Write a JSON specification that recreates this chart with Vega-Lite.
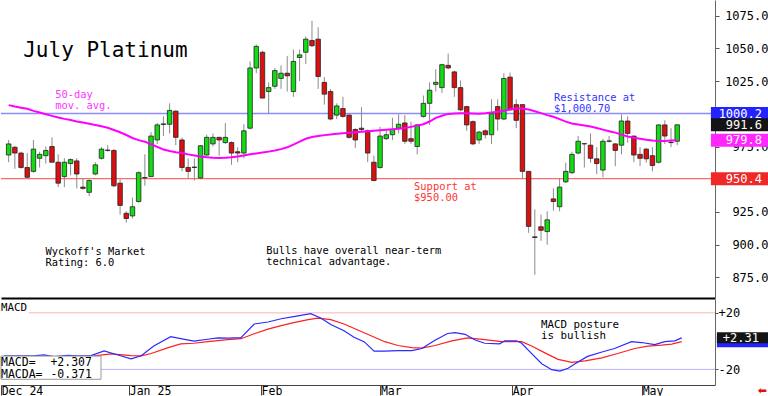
{
"$schema": "https://vega.github.io/schema/vega-lite/v6.json",
"padding": 0,
"background": "white",
"spacing": 1,
"bounds": "flush",
"config": {"view": {"stroke": null}, "axis": {"labelFont": "DejaVu Sans Mono", "labelFontSize": 12, "labelColor": "#000", "grid": false, "title": null, "labelOverlap": false, "labelBound": false}, "text": {"font": "DejaVu Sans Mono"}},
"datasets": {
"candles": [
{"i":0,"o":968.5,"h":980,"l":963,"c":977,"ma":1006.6},
{"i":1,"o":974.4,"h":975.5,"l":958,"c":970,"ma":1005.5},
{"i":2,"o":970,"h":971,"l":958,"c":959,"ma":1004.6},
{"i":3,"o":959,"h":970,"l":951,"c":951.5,"ma":1003.8},
{"i":4,"o":956,"h":980,"l":955,"c":973,"ma":1002.2},
{"i":5,"o":966,"h":971,"l":959,"c":969,"ma":1001},
{"i":6,"o":968,"h":975,"l":962,"c":972,"ma":999.6},
{"i":7,"o":975,"h":982,"l":963,"c":963,"ma":998.4},
{"i":8,"o":963,"h":969,"l":944,"c":947,"ma":997.2},
{"i":9,"o":952,"h":966,"l":944,"c":963,"ma":996.1},
{"i":10,"o":962,"h":966,"l":953,"c":965,"ma":995.2},
{"i":11,"o":964,"h":966,"l":943,"c":954,"ma":994.1},
{"i":12,"o":944,"h":951,"l":942,"c":943,"ma":993.3},
{"i":13,"o":940,"h":950,"l":937,"c":949,"ma":992.4},
{"i":14,"o":954,"h":963,"l":953,"c":961,"ma":991.4},
{"i":15,"o":966,"h":974.5,"l":965,"c":973,"ma":990.4},
{"i":16,"o":972,"h":976,"l":971,"c":972.3,"ma":989.3},
{"i":17,"o":972,"h":973,"l":944,"c":945,"ma":987.6},
{"i":18,"o":947,"h":950,"l":923,"c":930,"ma":985.9},
{"i":19,"o":924,"h":925.5,"l":917,"c":920,"ma":983.8},
{"i":20,"o":922,"h":936,"l":920,"c":929,"ma":981.5},
{"i":21,"o":933,"h":956,"l":932,"c":955,"ma":979.9},
{"i":22,"o":951.3,"h":969,"l":945,"c":951,"ma":978.7},
{"i":23,"o":952,"h":986,"l":952,"c":983,"ma":976.7},
{"i":24,"o":980,"h":993,"l":977,"c":991.5,"ma":974.7},
{"i":25,"o":991.8,"h":998,"l":983,"c":992.3,"ma":972.7},
{"i":26,"o":992,"h":1008,"l":985,"c":1002.6,"ma":971.6},
{"i":27,"o":1002,"h":1002.6,"l":976,"c":982,"ma":970.7},
{"i":28,"o":980,"h":982,"l":956,"c":959,"ma":970},
{"i":29,"o":959,"h":966,"l":951,"c":956,"ma":969},
{"i":30,"o":959.3,"h":966,"l":949,"c":959,"ma":968.1},
{"i":31,"o":951,"h":976,"l":950,"c":975.6,"ma":967.3},
{"i":32,"o":968.5,"h":984,"l":968,"c":982,"ma":966.8},
{"i":33,"o":977,"h":985,"l":975,"c":982,"ma":966.4},
{"i":34,"o":982,"h":982.5,"l":968,"c":980,"ma":966.3},
{"i":35,"o":978,"h":993,"l":977,"c":982,"ma":966.4},
{"i":36,"o":978,"h":979,"l":961,"c":970,"ma":966.8},
{"i":37,"o":971,"h":974.5,"l":963,"c":970,"ma":967.4},
{"i":38,"o":970,"h":992,"l":966,"c":987,"ma":968.1},
{"i":39,"o":989,"h":1040,"l":988,"c":1035,"ma":969.1},
{"i":40,"o":1035,"h":1053,"l":1031,"c":1051.5,"ma":969.7},
{"i":41,"o":1047,"h":1048,"l":1012,"c":1012,"ma":970.4},
{"i":42,"o":1017,"h":1024,"l":1000,"c":1020,"ma":971.1},
{"i":43,"o":1021,"h":1035,"l":1019,"c":1033,"ma":971.9},
{"i":44,"o":1027,"h":1037,"l":1019,"c":1031,"ma":973},
{"i":45,"o":1031,"h":1044,"l":1017,"c":1029,"ma":974.4},
{"i":46,"o":1017,"h":1049,"l":1013,"c":1040,"ma":976.5},
{"i":47,"o":1043,"h":1049,"l":1025,"c":1045,"ma":978.7},
{"i":48,"o":1047,"h":1059,"l":1038,"c":1057,"ma":980.9},
{"i":49,"o":1056,"h":1071,"l":1051,"c":1052,"ma":982.2},
{"i":50,"o":1057,"h":1066,"l":1019,"c":1028.5,"ma":983},
{"i":51,"o":1024,"h":1028,"l":1007,"c":1015,"ma":983.7},
{"i":52,"o":1017,"h":1019,"l":995,"c":996,"ma":984.2},
{"i":53,"o":999,"h":1008,"l":996,"c":1006,"ma":984.7},
{"i":54,"o":1004,"h":1013,"l":997,"c":998,"ma":985.1},
{"i":55,"o":999,"h":999.6,"l":981,"c":982,"ma":985.6},
{"i":56,"o":988,"h":989,"l":974,"c":980,"ma":985.9},
{"i":57,"o":989,"h":1005,"l":986,"c":988,"ma":986.3},
{"i":58,"o":987,"h":988,"l":963,"c":970,"ma":986.7},
{"i":59,"o":963,"h":968,"l":948.5,"c":949,"ma":987},
{"i":60,"o":959,"h":990,"l":958,"c":983,"ma":987.4},
{"i":61,"o":981,"h":988,"l":980,"c":984,"ma":987.8},
{"i":62,"o":984,"h":997,"l":980,"c":988,"ma":988.1},
{"i":63,"o":989,"h":999.6,"l":985,"c":992,"ma":988.5},
{"i":64,"o":993,"h":999,"l":977,"c":979,"ma":989.1},
{"i":65,"o":981,"h":994,"l":977,"c":979,"ma":990},
{"i":66,"o":975,"h":992,"l":969,"c":991.5,"ma":991},
{"i":67,"o":998,"h":1014,"l":997,"c":1008,"ma":992},
{"i":68,"o":1008,"h":1024,"l":991.5,"c":1018,"ma":994.1},
{"i":69,"o":1022.5,"h":1034,"l":1017,"c":1024,"ma":996.9},
{"i":70,"o":1020,"h":1038,"l":1016,"c":1037.5,"ma":998.5},
{"i":71,"o":1037,"h":1046,"l":1034,"c":1035,"ma":999.9},
{"i":72,"o":1032,"h":1033,"l":1013,"c":1020,"ma":1000.2},
{"i":73,"o":1020,"h":1025.5,"l":1002,"c":1003,"ma":1000.4},
{"i":74,"o":1005.5,"h":1006,"l":987,"c":991.5,"ma":1000.4},
{"i":75,"o":994,"h":995,"l":976,"c":977,"ma":1000.2},
{"i":76,"o":980,"h":987,"l":977,"c":986,"ma":1000},
{"i":77,"o":987,"h":988,"l":981,"c":984,"ma":1000.4},
{"i":78,"o":984,"h":1011,"l":977,"c":1000,"ma":1001},
{"i":79,"o":1005.5,"h":1011,"l":987,"c":996,"ma":1001.6},
{"i":80,"o":996,"h":1031,"l":995,"c":1027,"ma":1002.4},
{"i":81,"o":1028,"h":1031.5,"l":1003,"c":1003,"ma":1003.3},
{"i":82,"o":1007,"h":1011,"l":989,"c":995,"ma":1004.1},
{"i":83,"o":1007,"h":1007,"l":950,"c":956,"ma":1004.1},
{"i":84,"o":956,"h":956,"l":909,"c":914,"ma":1003.3},
{"i":85,"o":906,"h":927,"l":877,"c":905.5,"ma":1001.9},
{"i":86,"o":913.7,"h":923,"l":903,"c":911,"ma":1000.5},
{"i":87,"o":910,"h":925.5,"l":900,"c":919,"ma":999},
{"i":88,"o":935,"h":943,"l":926,"c":933,"ma":997.7},
{"i":89,"o":929,"h":951,"l":925.5,"c":944,"ma":995.9},
{"i":90,"o":948,"h":962.6,"l":947,"c":956,"ma":994},
{"i":91,"o":955,"h":971,"l":954,"c":969,"ma":992.6},
{"i":92,"o":970,"h":983,"l":969,"c":979,"ma":991.9},
{"i":93,"o":977,"h":977.5,"l":959,"c":977.2,"ma":991.1},
{"i":94,"o":976,"h":985,"l":962.6,"c":966,"ma":990.3},
{"i":95,"o":965.6,"h":974.5,"l":954,"c":962,"ma":989.1},
{"i":96,"o":957,"h":980.7,"l":951.5,"c":979,"ma":987.9},
{"i":97,"o":979,"h":983,"l":978,"c":979.3,"ma":986.7},
{"i":98,"o":977,"h":977.4,"l":960,"c":972,"ma":985.6},
{"i":99,"o":976,"h":999.6,"l":969,"c":994.5,"ma":984.1},
{"i":100,"o":994.5,"h":998,"l":978,"c":985,"ma":982.7},
{"i":101,"o":983,"h":983,"l":963,"c":968.5,"ma":981.7},
{"i":102,"o":969,"h":974.5,"l":960,"c":966,"ma":980.9},
{"i":103,"o":973,"h":974,"l":962.6,"c":965.6,"ma":980.1},
{"i":104,"o":968,"h":974.5,"l":956,"c":960.5,"ma":979.6},
{"i":105,"o":963,"h":992,"l":962,"c":991.5,"ma":979.3},
{"i":106,"o":991.5,"h":995,"l":977,"c":983,"ma":979.3},
{"i":107,"o":978.3,"h":989,"l":974.5,"c":978,"ma":979.5},
{"i":108,"o":979,"h":991.6,"l":976,"c":991.6,"ma":979.8}
],
"macd": [
{"i":0,"v":-10.5},{"i":4.8,"v":-10.4},{"i":6.4,"v":-9.8},{"i":8.0,"v":-11.0},{"i":10.2,"v":-10.0},{"i":11.8,"v":-10.4},{"i":13.9,"v":-10.2},{"i":16.0,"v":-6.9},{"i":18.2,"v":-9.8},{"i":20.3,"v":-12.5},{"i":21.9,"v":-10.4},{"i":23.9,"v":-3.5},{"i":26.6,"v":3.1},{"i":28.2,"v":1.7},{"i":30.3,"v":0.0},{"i":32.5,"v":1.3},{"i":34.1,"v":2.3},{"i":35.7,"v":2.1},{"i":37.8,"v":2.5},{"i":39.9,"v":12.1},{"i":42.1,"v":13.5},{"i":44.2,"v":15.8},{"i":46.2,"v":17.3},{"i":48.9,"v":19.4},{"i":50.5,"v":16.3},{"i":52.1,"v":11.7},{"i":54.2,"v":7.3},{"i":55.8,"v":2.7},{"i":57.4,"v":-0.4},{"i":59.0,"v":-7.1},{"i":60.7,"v":-7.1},{"i":62.8,"v":-6.7},{"i":65.0,"v":-6.7},{"i":66.6,"v":-5.2},{"i":68.7,"v":0.6},{"i":70.7,"v":5.4},{"i":71.9,"v":6.0},{"i":73.5,"v":4.8},{"i":75.0,"v":1.0},{"i":76.6,"v":-1.5},{"i":79.0,"v":-1.9},{"i":79.8,"v":0.2},{"i":81.7,"v":0.2},{"i":82.5,"v":-1.5},{"i":84.1,"v":-8.8},{"i":85.7,"v":-16.0},{"i":87.3,"v":-20.2},{"i":88.6,"v":-21.2},{"i":89.9,"v":-19.2},{"i":91.4,"v":-15.0},{"i":93.0,"v":-10.8},{"i":95.3,"v":-7.7},{"i":97.3,"v":-5.2},{"i":100.0,"v":-0.4},{"i":101.6,"v":-1.0},{"i":103.7,"v":-2.5},{"i":105.3,"v":-0.4},{"i":106.9,"v":0.2},{"i":108,"v":2.31}
],
"macda": [
{"i":0,"v":-12.8},{"i":4.8,"v":-12.5},{"i":10.2,"v":-11.3},{"i":14.4,"v":-10.4},{"i":17.1,"v":-9.0},{"i":20.3,"v":-10.2},{"i":21.9,"v":-10.4},{"i":23.5,"v":-8.75},{"i":26.2,"v":-4.6},{"i":28.2,"v":-1.9},{"i":30.3,"v":-1.5},{"i":32.5,"v":-0.4},{"i":35.7,"v":1.0},{"i":37.8,"v":1.7},{"i":39.9,"v":5.2},{"i":42.1,"v":8.5},{"i":44.2,"v":11.0},{"i":46.2,"v":13.1},{"i":48.5,"v":15.2},{"i":50.0,"v":16.3},{"i":52.1,"v":15.2},{"i":54.2,"v":12.1},{"i":56.4,"v":7.9},{"i":58.5,"v":3.75},{"i":60.7,"v":-0.4},{"i":62.8,"v":-3.1},{"i":65.0,"v":-4.6},{"i":66.6,"v":-5.0},{"i":68.7,"v":-3.1},{"i":71.4,"v":0.2},{"i":73.9,"v":2.3},{"i":76.6,"v":1.0},{"i":79.3,"v":-0.4},{"i":80.9,"v":-0.4},{"i":82.5,"v":-0.4},{"i":84.1,"v":-3.5},{"i":86.2,"v":-8.3},{"i":88.3,"v":-12.9},{"i":90.5,"v":-15.0},{"i":92.6,"v":-14.0},{"i":95.3,"v":-11.9},{"i":97.8,"v":-8.75},{"i":100.5,"v":-5.2},{"i":102.6,"v":-3.5},{"i":104.8,"v":-2.9},{"i":106.4,"v":-2.1},{"i":108,"v":-0.37}
],
"levels": [
{"name":"Resistance","p":1000.2,"label":"1000.2"},
{"name":"Close","p":991.6,"label":"991.6"},
{"name":"MA","p":979.8,"label":"979.8"},
{"name":"Support","p":950.4,"label":"950.4"}
],
"macdlevels": [
{"name":"MACDA","v":-0.371,"label":"-0.37"},
{"name":"MACD","v":2.307,"label":"+2.31"}
]
},
"vconcat": [
{
"width": 714, "height": 298,
"layer": [
{"data": {"values": [{}]}, "mark": {"type": "rule", "color": "#8c8cff", "strokeWidth": 1.3},
 "encoding": {"y": {"datum": 1000.2, "type": "quantitative", "scale": {"domain": [863.1, 1083.1], "nice": false, "zero": false},
  "axis": {"orient": "right", "values": [875, 900, 925, 950, 975, 1000, 1025, 1050, 1075], "tickCount": 50, "format": ".1f", "tickSize": 4, "tickColor": "#555", "domainColor": "#666", "labelAlign": "right", "labelPadding": 49, "labelBound": false, "labelOverlap": false}}}},
{"data": {"values": [{}]}, "mark": {"type": "rule", "color": "#ff6a6a", "strokeWidth": 1.3},
 "encoding": {"y": {"datum": 950.4, "type": "quantitative"}}},
{"data": {"name": "candles"}, "mark": {"type": "rule", "color": "#8a8a8a", "strokeWidth": 1},
 "encoding": {"x": {"field": "i", "type": "quantitative", "scale": {"domain": [-0.43, 113.3], "nice": false, "zero": false},
   "axis": {"orient": "bottom", "labels": false, "ticks": false, "domain": true, "domainColor": "#000", "domainWidth": 2}},
  "y": {"field": "l", "type": "quantitative"}, "y2": {"field": "h"}}},
{"data": {"name": "candles"}, "mark": {"type": "bar", "width": 4.5, "stroke": "#222", "strokeWidth": 0.8},
 "encoding": {"x": {"field": "i", "type": "quantitative"}, "y": {"field": "o", "type": "quantitative"}, "y2": {"field": "c"},
  "color": {"condition": {"test": "datum.c >= datum.o", "value": "#12dc12"}, "value": "#dc1010"}}},
{"data": {"name": "candles"}, "mark": {"type": "line", "color": "#ff00ff", "strokeWidth": 2},
 "encoding": {"x": {"field": "i", "type": "quantitative"}, "y": {"field": "ma", "type": "quantitative"}}},
{"data": {"values": [{"t": "July Platinum", "i": 2.35, "p": 1043.3}]}, "mark": {"type": "text", "fontSize": 21, "align": "left", "baseline": "alphabetic", "color": "#000"},
 "encoding": {"x": {"field": "i", "type": "quantitative"}, "y": {"field": "p", "type": "quantitative"}, "text": {"field": "t"}}},
{"data": {"values": [{"t": "Wyckoff's Market\nRating: 6.0", "i": 5.94, "p": 892.2}, {"t": "Bulls have overall near-term\ntechnical advantage.", "i": 41.6, "p": 893}]},
 "mark": {"type": "text", "fontSize": 10.4, "align": "left", "baseline": "alphabetic", "lineBreak": "\n", "lineHeight": 11, "color": "#000"},
 "encoding": {"x": {"field": "i", "type": "quantitative"}, "y": {"field": "p", "type": "quantitative"}, "text": {"field": "t"}}},
{"data": {"values": [{"t": "50-day\nmov. avg.", "i": 7.53, "p": 1012}]},
 "mark": {"type": "text", "fontSize": 10.4, "align": "left", "baseline": "alphabetic", "lineBreak": "\n", "lineHeight": 11, "color": "#ff33ff"},
 "encoding": {"x": {"field": "i", "type": "quantitative"}, "y": {"field": "p", "type": "quantitative"}, "text": {"field": "t"}}},
{"data": {"values": [{"t": "Support at\n$950.00", "i": 65.5, "p": 941.9}]},
 "mark": {"type": "text", "fontSize": 10.4, "align": "left", "baseline": "alphabetic", "lineBreak": "\n", "lineHeight": 11, "color": "#ff3333"},
 "encoding": {"x": {"field": "i", "type": "quantitative"}, "y": {"field": "p", "type": "quantitative"}, "text": {"field": "t"}}},
{"data": {"values": [{"t": "Resistance at\n$1,000.70", "i": 88.1, "p": 1010}]},
 "mark": {"type": "text", "fontSize": 10.4, "align": "left", "baseline": "alphabetic", "lineBreak": "\n", "lineHeight": 11, "color": "#3333ff"},
 "encoding": {"x": {"field": "i", "type": "quantitative"}, "y": {"field": "p", "type": "quantitative"}, "text": {"field": "t"}}},
{"data": {"name": "levels"}, "mark": {"type": "bar", "height": 13},
 "encoding": {"x": {"datum": 113.45, "type": "quantitative"}, "x2": {"datum": 124}, "y": {"field": "p", "type": "quantitative"},
  "color": {"field": "name", "type": "nominal", "legend": null, "scale": {"domain": ["Resistance", "Close", "MA", "Support"], "range": ["#2323ff", "#141414", "#ff26ff", "#f02828"]}}}},
{"data": {"name": "levels"}, "mark": {"type": "text", "fontSize": 12, "align": "right", "baseline": "middle", "color": "#fff"},
 "encoding": {"x": {"datum": 121.7, "type": "quantitative"}, "y": {"field": "p", "type": "quantitative"}, "text": {"field": "label"}}}
]
},
{
"width": 714, "height": 86,
"layer": [
{"data": {"values": [{}]}, "mark": {"type": "rule", "color": "#ffb4b4", "strokeWidth": 1},
 "encoding": {"x": {"datum": 4, "type": "quantitative", "scale": {"domain": [-0.43, 113.3], "nice": false, "zero": false},
   "axis": {"orient": "bottom", "values": [-0.4, 20, 41, 60, 81, 101.7], "tickCount": 50, "labelExpr": "datum.value < 10 ? 'Dec 24' : datum.value < 30 ? 'Jan 25' : datum.value < 50 ? 'Feb' : datum.value < 70 ? 'Mar' : datum.value < 90 ? 'Apr' : 'May'",
    "tickSize": 10, "tickColor": "#444", "domainColor": "#444", "labelAlign": "left", "labelBaseline": "top", "labelPadding": -10, "labelDx": 2, "labelFontSize": 11.5, "labelFlush": false, "labelOverlap": false, "labelBound": false}},
  "x2": {"datum": 113.3},
  "y": {"datum": 20, "type": "quantitative", "scale": {"domain": [-27.5, 26.25], "nice": false, "zero": false},
   "axis": {"orient": "right", "values": [20, -20], "tickCount": 50, "labelExpr": "datum.value > 0 ? '+20' : '-20'", "tickSize": 3, "tickColor": "#555", "domainColor": "#666", "labelAlign": "left", "labelPadding": 0, "labelBound": false, "labelOverlap": false}}}},
{"data": {"values": [{}]}, "mark": {"type": "rule", "color": "#b4b4ff", "strokeWidth": 1},
 "encoding": {"y": {"datum": -20, "type": "quantitative"}}},
{"data": {"name": "macda"}, "mark": {"type": "line", "color": "#ff2020", "strokeWidth": 1.2},
 "encoding": {"x": {"field": "i", "type": "quantitative"}, "y": {"field": "v", "type": "quantitative"}}},
{"data": {"name": "macd"}, "mark": {"type": "line", "color": "#2a2aff", "strokeWidth": 1.2},
 "encoding": {"x": {"field": "i", "type": "quantitative"}, "y": {"field": "v", "type": "quantitative"}}},
{"data": {"values": [{"t": "MACD", "i": -0.43, "v": 21.5}, {"t": "MACD posture\nis bullish", "i": 85.6, "v": 9.4}]},
 "mark": {"type": "text", "fontSize": 10.8, "align": "left", "baseline": "alphabetic", "lineBreak": "\n", "lineHeight": 11, "color": "#000"},
 "encoding": {"x": {"field": "i", "type": "quantitative"}, "y": {"field": "v", "type": "quantitative"}, "text": {"field": "t"}}},
{"data": {"values": [{}]}, "mark": {"type": "rect", "fill": "#fff", "stroke": "#999", "strokeWidth": 1},
 "encoding": {"x": {"datum": -0.43, "type": "quantitative"}, "x2": {"datum": 15.5}, "y": {"datum": -10.6, "type": "quantitative"}, "y2": {"datum": -27}}},
{"data": {"values": [{"t": "MACD=\nMACDA=", "i": -0.43, "v": -17.5}]},
 "mark": {"type": "text", "fontSize": 11.5, "align": "left", "baseline": "alphabetic", "lineBreak": "\n", "lineHeight": 11.7, "color": "#000"},
 "encoding": {"x": {"field": "i", "type": "quantitative"}, "y": {"field": "v", "type": "quantitative"}, "text": {"field": "t"}}},
{"data": {"values": [{"t": "+2.307\n-0.371", "i": 14.06, "v": -17.5}]},
 "mark": {"type": "text", "fontSize": 11.5, "align": "right", "baseline": "alphabetic", "lineBreak": "\n", "lineHeight": 11.7, "color": "#000"},
 "encoding": {"x": {"field": "i", "type": "quantitative"}, "y": {"field": "v", "type": "quantitative"}, "text": {"field": "t"}}},
{"data": {"name": "macdlevels"}, "mark": {"type": "bar", "height": 11},
 "encoding": {"x": {"datum": 113.6, "type": "quantitative"}, "x2": {"datum": 124}, "y": {"field": "v", "type": "quantitative"},
  "color": {"field": "name", "type": "nominal", "legend": null, "scale": {"domain": ["MACDA", "MACD"], "range": ["#f02828", "#2323ff"]}}}},
{"data": {"values": [{"t": "+2.31", "v": 2.307}]}, "mark": {"type": "text", "fontSize": 12, "align": "right", "baseline": "middle", "color": "#fff"},
 "encoding": {"x": {"datum": 120.3, "type": "quantitative"}, "y": {"field": "v", "type": "quantitative"}, "text": {"field": "t"}}},
{"data": {"values": [{"t": "⬅", "v": -35}]}, "mark": {"type": "text", "fontSize": 11, "align": "left", "baseline": "middle", "color": "#e01010", "font": "DejaVu Sans"},
 "encoding": {"x": {"datum": 120.1, "type": "quantitative"}, "y": {"field": "v", "type": "quantitative"}, "text": {"field": "t"}}}
]
}
]
}
